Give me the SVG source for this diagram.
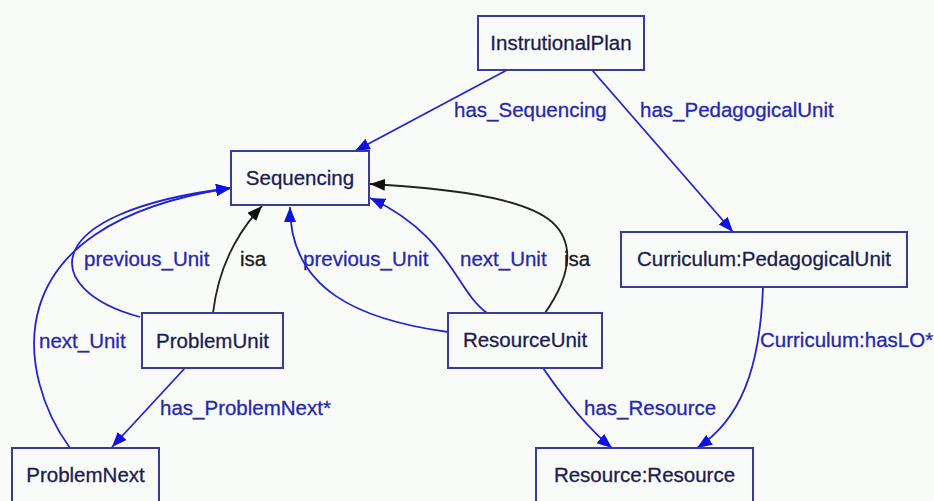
<svg xmlns="http://www.w3.org/2000/svg" width="934" height="501" viewBox="0 0 934 501">
<style>
.bg{fill:#f9fbf9}
.node rect{fill:#f9fbf9;stroke:#3a3a9c;stroke-width:2}
.node text{font-family:"Liberation Sans",Arial,sans-serif;font-size:20.5px;fill:#1c1c50;stroke:#1c1c50;stroke-width:0.3;text-anchor:middle}
.e{fill:none;stroke:#2323d0;stroke-width:1.8}
.k{fill:none;stroke:#222;stroke-width:1.8}
.lb{font-family:"Liberation Sans",Arial,sans-serif;font-size:20.5px;fill:#2727b0;stroke:#2727b0;stroke-width:0.3}
.lk{font-family:"Liberation Sans",Arial,sans-serif;font-size:20.5px;fill:#1a1a1a;stroke:#1a1a1a;stroke-width:0.3}
</style>
<defs>
<marker id="ab" markerUnits="userSpaceOnUse" markerWidth="16" markerHeight="13" refX="15" refY="6" orient="auto"><path d="M0,0 L15,6 L0,12 z" fill="#1010e0"/></marker>
<marker id="ak" markerUnits="userSpaceOnUse" markerWidth="16" markerHeight="13" refX="15" refY="6" orient="auto"><path d="M0,0 L15,6 L0,12 z" fill="#111"/></marker>
</defs>
<rect class="bg" x="0" y="0" width="934" height="501"/>
<g id="connectors">
<path class="e" d="M507,70 L355,151" marker-end="url(#ab)"/>
<path class="e" d="M592,70 L733,232" marker-end="url(#ab)"/>
<path class="e" d="M763,287 C760,370 740,420 697,448" marker-end="url(#ab)"/>
<path class="e" d="M543,368 C565,400 590,430 612,448" marker-end="url(#ab)"/>
<path class="e" d="M185,368 L112,447" marker-end="url(#ab)"/>
<path class="e" d="M140,317 C40,290 35,212 231,188" marker-end="url(#ab)"/>
<path class="e" d="M70,448 C20,380 -15,225 231,188" marker-end="url(#ab)"/>
<path class="k" d="M213,313 C218,270 235,235 262,206" marker-end="url(#ak)"/>
<path class="e" d="M448,332 C360,320 290,290 290,207" marker-end="url(#ab)"/>
<path class="e" d="M487,313 C455,290 450,235 370,198" marker-end="url(#ab)"/>
<path class="k" d="M545,313 C575,270 572,240 552,222 C522,196 440,188 370,184" marker-end="url(#ak)"/>
<text class="lb" x="454" y="117">has_Sequencing</text>
<text class="lb" x="640" y="117">has_PedagogicalUnit</text>
<text class="lb" x="84" y="266">previous_Unit</text>
<text class="lk" x="240" y="266">isa</text>
<text class="lb" x="303" y="266">previous_Unit</text>
<text class="lb" x="460" y="266">next_Unit</text>
<text class="lk" x="564" y="266">isa</text>
<text class="lb" x="39" y="348">next_Unit</text>
<text class="lb" x="160" y="415">has_ProblemNext*</text>
<text class="lb" x="584" y="415">has_Resource</text>
<text class="lb" x="760" y="347">Curriculum:hasLO*</text>
</g>
<g id="InstrutionalPlan" class="node"><rect x="478" y="16" width="166" height="54"/><text x="561" y="50">InstrutionalPlan</text></g>
<g id="Sequencing" class="node"><rect x="231" y="151" width="138" height="54"/><text x="300" y="185">Sequencing</text></g>
<g id="CurriculumPedagogicalUnit" class="node"><rect x="621" y="232" width="286" height="55"/><text x="764" y="266">Curriculum:PedagogicalUnit</text></g>
<g id="ProblemUnit" class="node"><rect x="142" y="313" width="141" height="55"/><text x="212.5" y="348">ProblemUnit</text></g>
<g id="ResourceUnit" class="node"><rect x="448" y="313" width="154" height="55"/><text x="525" y="347">ResourceUnit</text></g>
<g id="ProblemNext" class="node"><rect x="12" y="448" width="147" height="60"/><text x="85.5" y="482">ProblemNext</text></g>
<g id="ResourceResource" class="node"><rect x="536" y="448" width="217" height="60"/><text x="644.5" y="482">Resource:Resource</text></g>
</svg>
